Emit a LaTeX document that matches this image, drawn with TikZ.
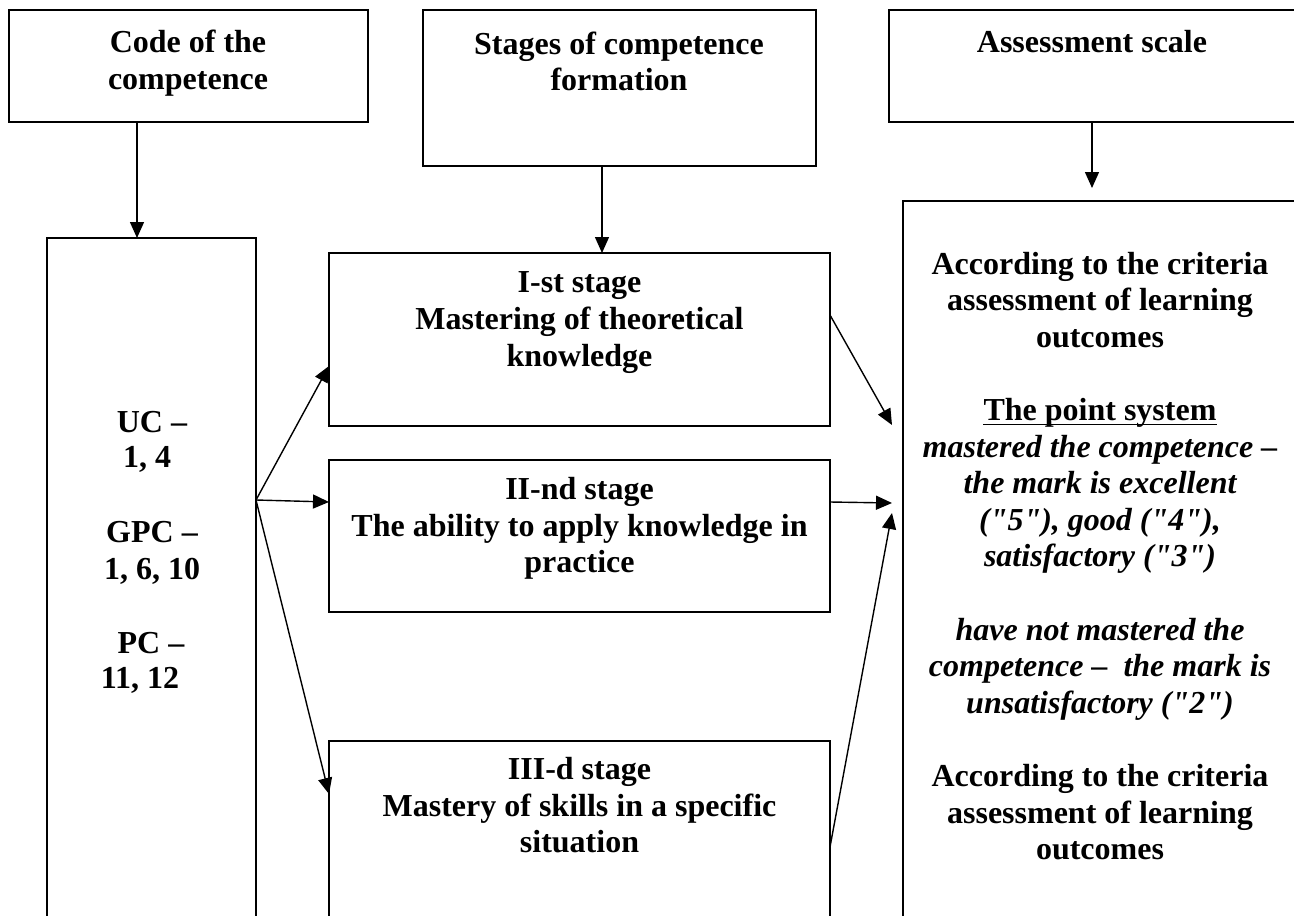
\documentclass[tikz,border=0pt]{standalone}
\usepackage{fontspec}
\setmainfont{Liberation Serif}[Ligatures=TeXOff]
\usetikzlibrary{arrows.meta}
\tikzset{
  box/.style={draw, line width=1.6pt, rectangle, inner sep=0pt, outer sep=0pt, anchor=north west},
  txt/.style={anchor=base, inner sep=0pt, font=\fontsize{32}{37}\selectfont\bfseries},
  itx/.style={anchor=base, inner sep=0pt, font=\fontsize{32}{37}\selectfont\bfseries\itshape},
  arr/.style={line width=1.4pt, -{Triangle[length=16pt,width=14pt]}}
}
\begin{document}
\begin{tikzpicture}[x=1pt,y=-1pt]
\useasboundingbox (0,0) rectangle (1294,916);
\fill[white] (0,0) rectangle (1294,916);
\clip (0,0) rectangle (1294,916);
% boxes
\node[box, minimum width=359pt, minimum height=112pt] (code) at (9,10) {};
\node[box, minimum width=393pt, minimum height=156pt] (stages) at (423,10) {};
\node[box, minimum width=410pt, minimum height=112pt] (assess) at (889,10) {};
\node[box, minimum width=209pt, minimum height=720pt] (left) at (47,238) {};
\node[box, minimum width=501pt, minimum height=173pt] (s1) at (329,253) {};
\node[box, minimum width=501pt, minimum height=152pt] (s2) at (329,460) {};
\node[box, minimum width=501pt, minimum height=250pt] (s3) at (329,741) {};
\node[box, minimum width=396pt, minimum height=760pt] (right) at (903,201) {};
% header texts
\node[txt] (c1) at (188,52) {Code of the};
\node[txt] (c2) at (188,89) {competence};
\node[txt] (g1) at (619,54) {Stages of competence};
\node[txt] (g2) at (619,90) {formation};
\node[txt] (a1) at (1092,52) {Assessment scale};
% stage texts
\node[txt] (t11) at (579.5,292) {I-st stage};
\node[txt] (t12) at (579.5,329) {Mastering of theoretical};
\node[txt] (t13) at (579.5,366) {knowledge};
\node[txt] (t21) at (579.5,499) {II-nd stage};
\node[txt] (t22) at (579.5,536) {The ability to apply knowledge in};
\node[txt] (t23) at (579.5,572) {practice};
\node[txt] (t31) at (579.5,779) {III-d stage};
\node[txt] (t32) at (579.5,816) {Mastery of skills in a specific};
\node[txt] (t33) at (579.5,852) {situation};
% left texts
\node[txt] (l1) at (152,432) {UC –};
\node[txt] (l2) at (147,467) {1, 4};
\node[txt] (l3) at (152,542) {GPC –};
\node[txt] (l4) at (152,579) {1, 6, 10};
\node[txt] (l5) at (151,653) {PC –};
\node[txt] (l6) at (140,688) {11, 12};
% right texts
\node[txt] (r1) at (1100,274) {According to the criteria};
\node[txt] (r2) at (1100,310.6) {assessment of learning};
\node[txt] (r3) at (1100,347.2) {outcomes};
\node[txt] (ps) at (1100,420.4) {The point system};
\draw[line width=1.5pt] ([yshift=-4pt]ps.base west) -- ([yshift=-4pt]ps.base east);
\node[itx] (r5) at (1100,457) {mastered the competence –};
\node[itx] (r6) at (1100,493.6) {the mark is excellent};
\node[itx] (r7) at (1100,530.2) {("5"), good ("4"),};
\node[itx] (r8) at (1100,566.8) {satisfactory ("3")};
\node[itx] (r10) at (1100,640) {have not mastered the};
\node[itx] (r11) at (1100,676.6) {competence –\ \ the mark is};
\node[itx] (r12) at (1100,713.2) {unsatisfactory ("2")};
\node[txt] (r14) at (1100,786.4) {According to the criteria};
\node[txt] (r15) at (1100,823) {assessment of learning};
\node[txt] (r16) at (1100,859.6) {outcomes};
% connector helper coordinates
\coordinate (xa) at (137,0);
\coordinate (xb) at (602,0);
\coordinate (xc) at (1092,0);
\coordinate (fan) at (0,500);
\coordinate (tipA) at (1092,188);
\coordinate (q1) at (892,425);
\coordinate (q2) at (892,503);
\coordinate (q3) at (892,513);
% connectors
\draw[arr] (code.south -| xa) -- (left.north -| xa);
\draw[arr] (stages.south -| xb) -- (s1.north -| xb);
\draw[arr] (assess.south -| xc) -- (tipA);
\draw[arr] (left.east |- fan) -- (s1.west |- 0,366);
\draw[arr] (left.east |- fan) -- (s2.west |- 0,502);
\draw[arr] (left.east |- fan) -- (s3.west |- 0,794);
\draw[arr] (s1.east |- 0,315) -- (q1);
\draw[arr] (s2.east |- 0,502) -- (q2);
\draw[arr] (s3.east |- 0,847) -- (q3);
\end{tikzpicture}
\end{document}
